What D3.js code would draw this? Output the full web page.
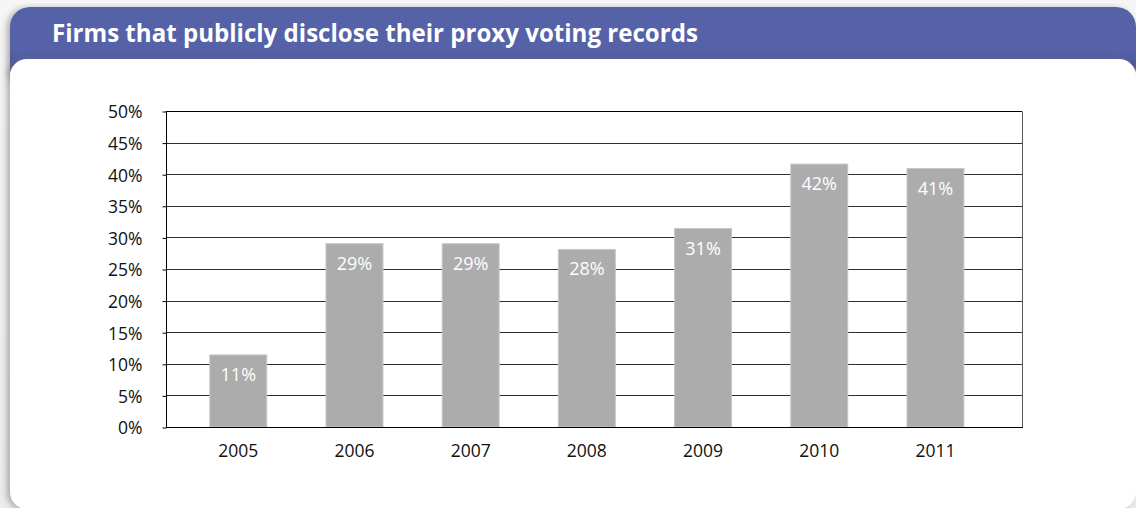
<!DOCTYPE html>
<html>
<head>
<meta charset="utf-8">
<script src="https://cdn.jsdelivr.net/npm/d3@7"></script>
<style>
  html, body { margin: 0; padding: 0; background: #f3f3f3; }
  svg { display: block; }
</style>
</head>
<body>
<svg id="chart" width="1136" height="508"></svg>
<script>
// Share of firms publicly disclosing proxy voting records, by year
const years = ["2005", "2006", "2007", "2008", "2009", "2010", "2011"];
const shares = [0.114, 0.290, 0.290, 0.281, 0.314, 0.416, 0.409];
const yTicks = [0, 0.05, 0.10, 0.15, 0.20, 0.25, 0.30, 0.35, 0.40, 0.45, 0.50];
const title = "Firms that publicly disclose their proxy voting records";

(function draw() {
  const svg = d3.select("#chart");
  const W = 1136, H = 508;
  const FONT = "'Open Sans', 'Noto Sans', sans-serif";

  const defs = svg.append("defs");
  const hdrGrad = defs.append("linearGradient").attr("id", "hdr").attr("x1", 0).attr("y1", 0).attr("x2", 0).attr("y2", 1);
  hdrGrad.append("stop").attr("offset", "0%").attr("stop-color", "#5562a8");
  hdrGrad.append("stop").attr("offset", "55%").attr("stop-color", "#5562a8");
  hdrGrad.append("stop").attr("offset", "72%").attr("stop-color", "#4b5797");
  hdrGrad.append("stop").attr("offset", "100%").attr("stop-color", "#4b5797");

  const bgGrad = defs.append("linearGradient").attr("id", "bg").attr("x1", 0).attr("y1", 0).attr("x2", 0).attr("y2", 1);
  bgGrad.append("stop").attr("offset", "0%").attr("stop-color", "#f6f6f6");
  bgGrad.append("stop").attr("offset", "100%").attr("stop-color", "#ececec");

  const shadow = defs.append("filter").attr("id", "shadow").attr("x", "-5%").attr("y", "-5%").attr("width", "110%").attr("height", "115%");
  shadow.append("feDropShadow").attr("dx", -3).attr("dy", 1).attr("stdDeviation", 3)
    .attr("flood-color", "#7a7a7a").attr("flood-opacity", 0.6);

  // page background
  svg.append("rect").attr("width", W).attr("height", H).attr("fill", "url(#bg)");

  // header band
  svg.append("rect")
    .attr("x", 10).attr("y", 7).attr("width", 1126).attr("height", 80)
    .attr("rx", 20).attr("ry", 20)
    .attr("fill", "url(#hdr)")
    .attr("filter", "url(#shadow)");

  // white content panel
  svg.append("rect")
    .attr("x", 10).attr("y", 59).attr("width", 1126).attr("height", 450)
    .attr("rx", 17).attr("ry", 17)
    .attr("fill", "#ffffff")
    .attr("filter", "url(#shadow)");

  // title
  const titleText = svg.append("text")
    .attr("x", 52).attr("y", 42)
    .attr("fill", "#ffffff")
    .attr("font-family", FONT)
    .attr("font-weight", 700)
    .attr("font-size", 22)
    .text(title);
  const tw = titleText.node().getComputedTextLength();
  titleText.attr("font-size", 22 * 646 / tw);

  // plot geometry
  const pLeft = 166, pRight = 1022, pTop = 111, pBottom = 427;

  const x = d3.scaleBand()
    .domain(years)
    .range([pLeft, pRight])
    .paddingInner(0.51)
    .paddingOuter(0.4385)
    .align(0.43);

  const y = d3.scaleLinear().domain([0, 0.5]).range([pBottom, pTop]);

  const plot = svg.append("g");

  // horizontal gridlines
  plot.append("g")
    .selectAll("line")
    .data(yTicks.filter(d => d > 0))
    .join("line")
    .attr("x1", pLeft).attr("x2", pRight)
    .attr("y1", d => Math.round(y(d)) + 0.5)
    .attr("y2", d => Math.round(y(d)) + 0.5)
    .attr("stroke", d => d === 0.5 ? "#000" : "#2e2e2e")
    .attr("stroke-width", 1.1);

  // right frame edge
  plot.append("line")
    .attr("x1", pRight + 0.5).attr("x2", pRight + 0.5)
    .attr("y1", Math.round(y(0.5)) + 0.5).attr("y2", Math.round(y(0)) + 0.5)
    .attr("stroke", "#555");

  const rows = years.map((yr, i) => ({ yr, v: shares[i] }));

  // bars
  plot.append("g")
    .selectAll("rect")
    .data(rows)
    .join("rect")
    .attr("x", d => x(d.yr))
    .attr("width", x.bandwidth())
    .attr("y", d => y(d.v))
    .attr("height", d => y(0) - y(d.v))
    .attr("fill", "#acacac")
    .attr("stroke", "#c6c6c6")
    .attr("stroke-width", 1);

  // value labels
  plot.append("g")
    .selectAll("text")
    .data(rows)
    .join("text")
    .attr("x", d => x(d.yr) + x.bandwidth() / 2)
    .attr("y", d => y(d.v) + 26)
    .attr("text-anchor", "middle")
    .attr("fill", "#ffffff")
    .attr("font-family", FONT)
    .attr("font-size", 18)
    .text(d => d3.format(".0%")(d.v));

  // y axis
  const yAxis = d3.axisLeft(y)
    .tickValues(yTicks)
    .tickFormat(d3.format(".0%"))
    .tickSize(4)
    .tickPadding(20);

  const yg = svg.append("g")
    .attr("transform", `translate(${pLeft + 0.5},0.5)`)
    .call(yAxis);
  yg.select(".domain").attr("stroke", "#000").attr("d", `M0,${pTop}V${pBottom}`);
  yg.selectAll(".tick line").attr("stroke", "#000");
  yg.selectAll(".tick text")
    .attr("fill", "#111")
    .attr("font-family", FONT)
    .attr("font-size", 17.5)
    .attr("dy", "0.36em");

  // x axis
  const xAxis = d3.axisBottom(x).tickSize(0).tickPadding(17);
  const xg = svg.append("g")
    .attr("transform", `translate(0,${pBottom + 0.5})`)
    .call(xAxis);
  xg.select(".domain").attr("stroke", "#000").attr("d", `M${pLeft},0H${pRight + 1}`);
  xg.selectAll(".tick text")
    .attr("fill", "#111")
    .attr("font-family", FONT)
    .attr("font-size", 17.5);
})();
</script>
</body>
</html>
